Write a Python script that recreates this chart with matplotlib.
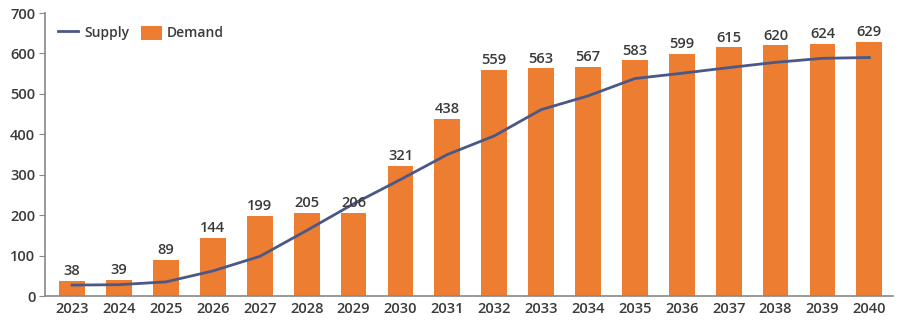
import matplotlib
matplotlib.use("Agg")
import matplotlib.pyplot as plt
import numpy as np

years = [str(y) for y in range(2023, 2041)]
demand = [38, 39, 89, 144, 199, 205, 206, 321, 438, 559, 563, 567, 583, 599, 615, 620, 624, 629]
supply = [27, 28, 35, 62, 98, 162, 228, 288, 350, 396, 461, 495, 538, 551, 565, 578, 588, 590]
yticks = [0, 100, 200, 300, 400, 500, 600, 700]

plt.rcParams['font.family'] = ['Open Sans', 'DejaVu Sans']
plt.rcParams['font.weight'] = 'semibold'

fig = plt.figure(figsize=(9, 3.26), dpi=100)
ax = fig.add_axes([0.05, 0.092, 0.942, 0.868])

x = np.arange(len(years))
bars = ax.bar(x, demand, width=0.55, color='#ED7D31', label='Demand', zorder=2)
line, = ax.plot(x, supply, color='#4A5888', lw=2, label='Supply', zorder=3)

for xi, v in zip(x, demand):
    ax.text(xi, v + 7, str(v), ha='center', va='bottom', fontsize=10.5, color='#3a3a3a',
            fontweight='semibold')

ax.set_xlim(-0.58, 17.5)
ax.set_ylim(0, 700)
ax.set_yticks(yticks)
ax.set_xticks(x)
ax.set_xticklabels(years)
ax.tick_params(axis='y', labelsize=10.5, colors='#3a3a3a', length=4, color='#888888', pad=3)
ax.tick_params(axis='x', labelsize=10.5, colors='#3a3a3a', length=0, pad=4)
for s in ['top', 'right']:
    ax.spines[s].set_visible(False)
for s in ['left', 'bottom']:
    ax.spines[s].set_color('#888888')
    ax.spines[s].set_linewidth(1.2)

ax.legend(handles=[line, bars], loc='upper left', bbox_to_anchor=(0.0, 1.0), ncol=2,
          frameon=False, fontsize=10, handlelength=1.5, handleheight=1.2, columnspacing=0.85,
          labelcolor='#3a3a3a', handletextpad=0.4)

fig.savefig('out.png', dpi=100)
